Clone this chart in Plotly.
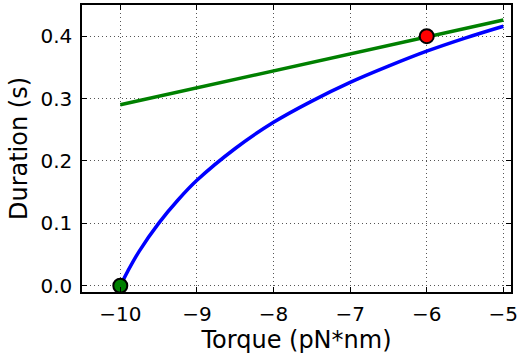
import plotly.graph_objects as go

# Data
torque_blue = [-10, -9.9, -9.75, -9.5, -9.25, -9, -8.5, -8, -7.5, -7, -6.5, -6, -5.5, -5]
duration_blue = [0.0, 0.024, 0.056, 0.100, 0.137, 0.169, 0.220, 0.262, 0.296, 0.326,
                 0.352, 0.376, 0.397, 0.416]

torque_green = [-10, -5]
duration_green = [0.29, 0.426]

red_point = ([-6], [0.40])
green_point = ([-10], [0.0])

x_ticks = [-10, -9, -8, -7, -6, -5]
y_ticks = [0.0, 0.1, 0.2, 0.3, 0.4]

fig = go.Figure()
fig.add_trace(go.Scatter(x=torque_green, y=duration_green, mode="lines",
                         line=dict(color="#008000", width=3.5), showlegend=False))
fig.add_trace(go.Scatter(x=torque_blue, y=duration_blue, mode="lines",
                         line=dict(color="#0000ff", width=3.5, shape="spline", smoothing=1.0),
                         showlegend=False))
fig.add_trace(go.Scatter(x=red_point[0], y=red_point[1], mode="markers",
                         marker=dict(color="#ff0000", size=14, line=dict(color="black", width=2)),
                         showlegend=False))
fig.add_trace(go.Scatter(x=green_point[0], y=green_point[1], mode="markers",
                         marker=dict(color="#008000", size=14, line=dict(color="black", width=2)),
                         showlegend=False, cliponaxis=False))

axis_common = dict(
    showline=True, linecolor="black", linewidth=1.5, mirror="ticks",
    ticks="inside", ticklen=5, tickcolor="black", tickwidth=1,
    showgrid=True, gridcolor="#555555", griddash="1px,3px", gridwidth=1,
    zeroline=False, tickfont=dict(family="DejaVu Sans", size=20, color="black"),
)

fig.update_xaxes(range=[-10.5, -4.9], tickvals=x_ticks,
                 ticktext=[f"\u2212{abs(v)}" for v in x_ticks],
                 title=dict(text="Torque (pN*nm)", font=dict(family="DejaVu Sans", size=24, color="black"),
                            standoff=3),
                 ticklabelstandoff=3,
                 **axis_common)
fig.update_yaxes(range=[-0.01, 0.45], tickvals=y_ticks,
                 ticktext=[f"{v:.1f}" for v in y_ticks],
                 title=dict(text="Duration (s)", font=dict(family="DejaVu Sans", size=24, color="black"),
                            standoff=6),
                 ticklabelstandoff=4,
                 **axis_common)

fig.update_layout(width=521, height=354, margin=dict(l=82, r=8, t=3, b=62),
                  paper_bgcolor="white", plot_bgcolor="white")

fig.write_html("out.html")
